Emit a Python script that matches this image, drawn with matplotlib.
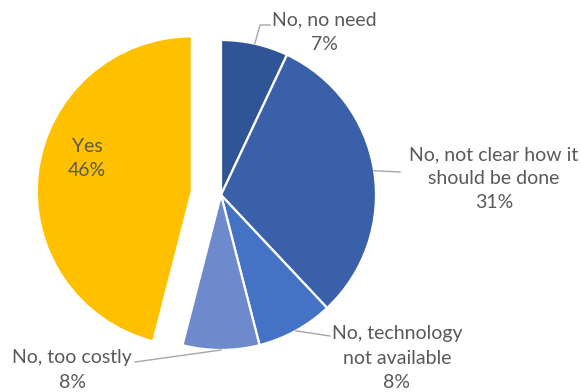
import numpy as np
import matplotlib
matplotlib.use('Agg')
import matplotlib.pyplot as plt

plt.rcParams['font.family'] = ['Lato', 'DejaVu Sans']

labels = ['No, no need', 'No, not clear how it\nshould be done', 'No, technology\nnot available',
          'No, too costly', 'Yes']
shares = [7, 31, 8, 8, 46]
colors = ['#2F5597', '#3A60AA', '#4472C4', '#6E89CC', '#FFC000']
explode = [0, 0, 0, 0, 0.19]

W, H = 581, 392
CX, CY, R = 221, 195, 155  # pie centre / radius in pixels


def px(x, y):
    return (x - CX) / R, (CY - y) / R


fig = plt.figure(figsize=(W / 100, H / 100), dpi=100)
ax = fig.add_axes([0, 0, 1, 1])
wedges, _ = ax.pie(shares, colors=colors, explode=explode, startangle=90,
                   counterclock=False, radius=1,
                   wedgeprops=dict(edgecolor='white', linewidth=1.6))
ax.set_xlim(-CX / R, (W - CX) / R)
ax.set_ylim(-(H - CY) / R, CY / R)
ax.set_aspect('auto')
ax.axis('off')

tcol = '#595959'
fs = 14
# label centre (px) and leader elbow points (px); None -> label inside slice
layout = [
    ((324, 32), [(260, 25), (270, 25)]),
    ((494, 179), [(400, 172)]),
    ((397, 358), [(330, 336)]),
    ((72, 370), [(135, 362)]),
    ((87, 159), None),
]
for w, lab, v, (pos, elbow) in zip(wedges, labels, shares, layout):
    txt = f'{lab}\n{v}%'
    ax.text(*px(*pos), txt, ha='center', va='center', fontsize=fs, color=tcol,
            linespacing=1.5)
    if elbow:
        mid = np.deg2rad((w.theta1 + w.theta2) / 2)
        cx, cy = w.center
        sx, sy = cx + w.r * np.cos(mid), cy + w.r * np.sin(mid)
        pts = [(sx, sy)] + [px(*p) for p in elbow]
        xs, ys = zip(*pts)
        ax.plot(xs, ys, color='#a6a6a6', lw=1)

fig.savefig('out.png', dpi=100, facecolor='white')
